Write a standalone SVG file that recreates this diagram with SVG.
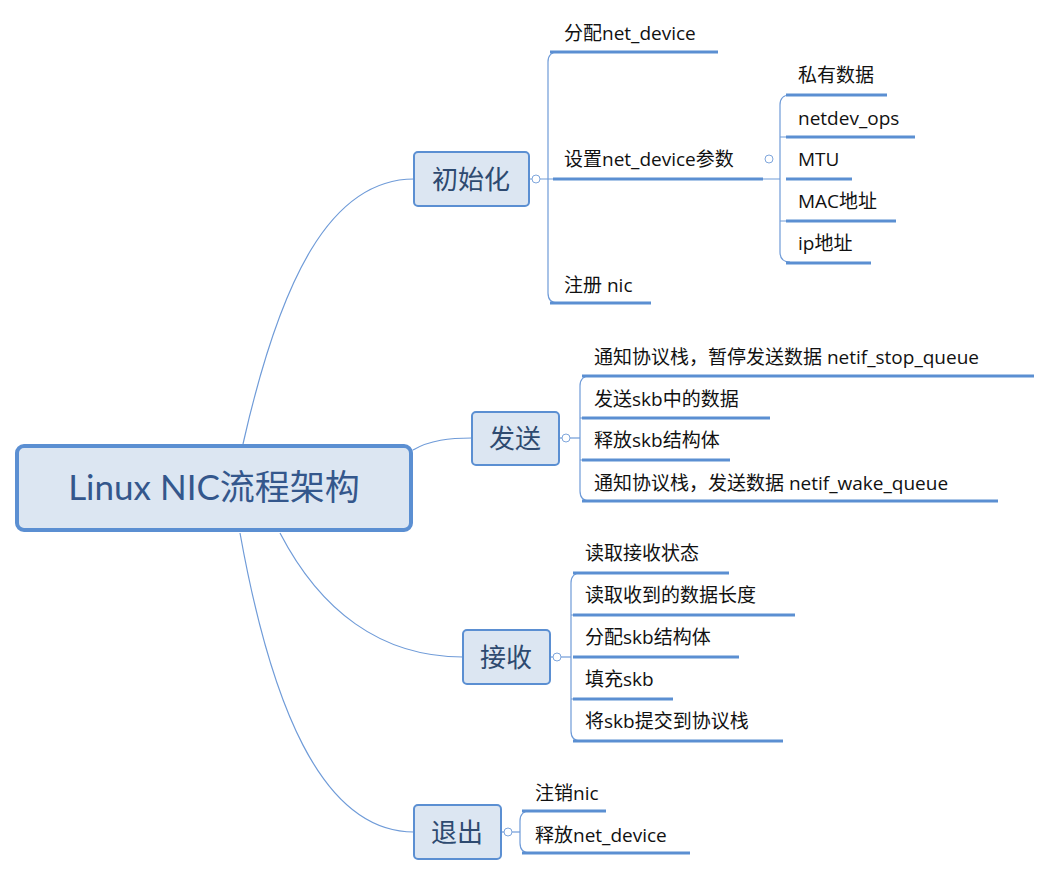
<svg xmlns="http://www.w3.org/2000/svg" width="1046" height="874" viewBox="0 0 1046 874">
<style>
.n{fill:#dce6f2;stroke:#5b8fd2;stroke-width:2}
.bt{font-family:"Open Sans","Noto Sans CJK SC",sans-serif;font-size:26px;fill:#2e4a70;text-anchor:middle}
.t{font-family:"Open Sans","Noto Sans CJK SC",sans-serif;font-size:19px;fill:#111}
.u{stroke:#5b8fd2;stroke-width:3}
.c{fill:none;stroke:#6f9bd8;stroke-width:1.2}
.o{fill:#fff;stroke:#7fa6dc;stroke-width:1}
</style>
<rect width="1046" height="874" fill="#fff"/>
<g id="connectors">
<path class="c" d="M243,444 C280,280 330,179 414,179"/>
<path class="c" d="M413,450 C430,440 450,438 472,438"/>
<path class="c" d="M280,533 C320,610 380,657 463,657"/>
<path class="c" d="M240,533 C270,700 320,832 414,832"/>
<path class="c" d="M529,179 H540 M540,179 H780"/>
<path class="c" d="M558,52 Q548,52 548,62 V293 Q548,303 558,303"/>
<path class="c" d="M790,95 Q780,95 780,105 V252 Q780,262 790,262 M780,137 H790 M780,221 H790"/>
<path class="c" d="M559,438 H580"/>
<path class="c" d="M590,376 Q580,376 580,386 V491 Q580,501 590,501 M580,418 H590 M580,460 H590"/>
<path class="c" d="M550,657 H571"/>
<path class="c" d="M581,573 Q571,573 571,583 V731 Q571,741 581,741 M571,615 H581 M571,699 H581"/>
<path class="c" d="M501,832 H520"/>
<path class="c" d="M530,811 Q520,811 520,821 V843 Q520,853 530,853"/>
<g class="u">
<line x1="550" y1="52" x2="718" y2="52"/><line x1="553" y1="179" x2="763" y2="179"/><line x1="550" y1="303" x2="651" y2="303"/>
<line x1="786" y1="95" x2="887" y2="95"/><line x1="786" y1="137" x2="915" y2="137"/><line x1="786" y1="179" x2="852" y2="179"/><line x1="786" y1="221" x2="896" y2="221"/><line x1="786" y1="263" x2="871" y2="263"/>
<line x1="582" y1="376" x2="1034" y2="376"/><line x1="582" y1="418" x2="770" y2="418"/><line x1="582" y1="460" x2="730" y2="460"/><line x1="582" y1="501" x2="998" y2="501"/>
<line x1="573" y1="573" x2="729" y2="573"/><line x1="573" y1="615" x2="795" y2="615"/><line x1="573" y1="657" x2="739" y2="657"/><line x1="573" y1="699" x2="673" y2="699"/><line x1="573" y1="741" x2="783" y2="741"/>
<line x1="522" y1="811" x2="606" y2="811"/><line x1="522" y1="853" x2="690" y2="853"/>
</g>
<circle class="o" cx="536" cy="179" r="4"/><circle class="o" cx="769" cy="159" r="4"/><circle class="o" cx="566" cy="438" r="4"/><circle class="o" cx="557" cy="657" r="4"/><circle class="o" cx="508" cy="832" r="4"/>
</g>
<g id="root"><rect x="17" y="446" width="394" height="84" rx="7" fill="#dce6f2" stroke="#5b8fd2" stroke-width="4"/><text x="214" y="500" font-family="Lato,'Noto Sans CJK SC',sans-serif" font-size="35" fill="#34578c" text-anchor="middle">Linux NIC流程架构</text></g>
<g id="init"><rect class="n" x="414" y="152" width="115" height="54" rx="4"/><text class="bt" x="471" y="189">初始化</text></g>
<g id="send"><rect class="n" x="472" y="412" width="87" height="53" rx="4"/><text class="bt" x="515" y="448">发送</text></g>
<g id="recv"><rect class="n" x="463" y="630" width="87" height="54" rx="4"/><text class="bt" x="506" y="667">接收</text></g>
<g id="exit"><rect class="n" x="414" y="805" width="87" height="54" rx="4"/><text class="bt" x="457" y="842">退出</text></g>
<g id="leaves" class="t">
<text class="t" x="564" y="40">分配net_device</text>
<text class="t" x="564" y="166">设置net_device参数</text>
<text class="t" x="564" y="292">注册 nic</text>
<text class="t" x="798" y="82">私有数据</text>
<text class="t" x="798" y="125">netdev_ops</text>
<text class="t" x="798" y="166">MTU</text>
<text class="t" x="798" y="208">MAC地址</text>
<text class="t" x="798" y="250">ip地址</text>
<text class="t" x="594" y="364">通知协议栈，暂停发送数据 netif_stop_queue</text>
<text class="t" x="594" y="406">发送skb中的数据</text>
<text class="t" x="594" y="447">释放skb结构体</text>
<text class="t" x="594" y="490">通知协议栈，发送数据 netif_wake_queue</text>
<text class="t" x="585" y="560">读取接收状态</text>
<text class="t" x="585" y="602">读取收到的数据长度</text>
<text class="t" x="585" y="644">分配skb结构体</text>
<text class="t" x="585" y="686">填充skb</text>
<text class="t" x="585" y="728">将skb提交到协议栈</text>
<text class="t" x="535" y="800">注销nic</text>
<text class="t" x="535" y="842">释放net_device</text>
</g>
</svg>
